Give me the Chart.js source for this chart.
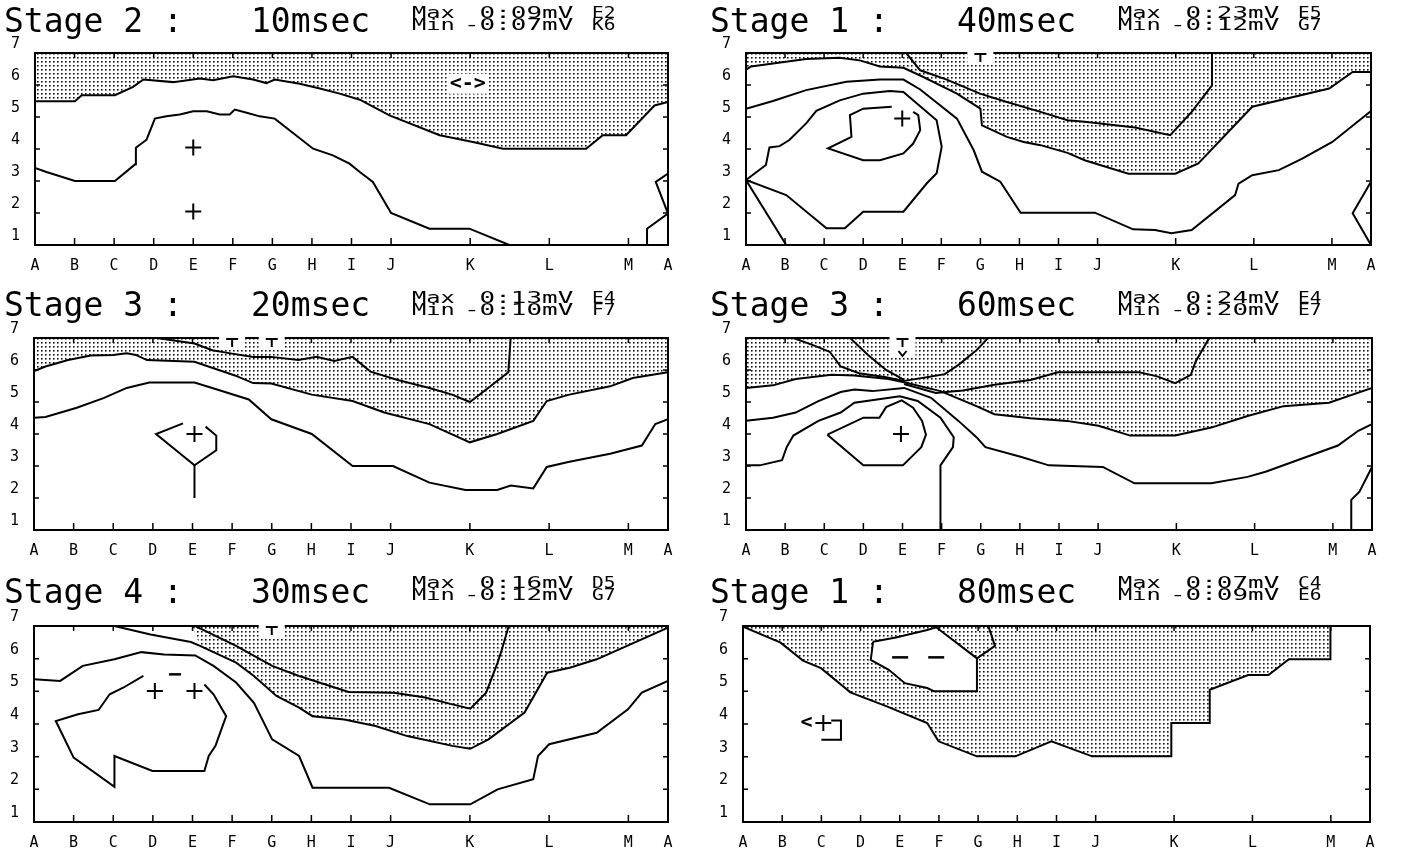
<!DOCTYPE html>
<html>
<head>
<meta charset="utf-8">
<script src="https://cdn.jsdelivr.net/npm/chart.js@4.4.0/dist/chart.umd.min.js"></script>
<style>
  body { margin: 0; background: #fff; width: 1412px; height: 854px; overflow: hidden; position: relative; font-family: "DejaVu Sans Mono", monospace; }
  .panel { position: absolute; width: 706px; }
  .panel canvas { position: absolute; left: 0; top: 0; }
  .t { position: absolute; white-space: pre; color: #000; }
  .big { font-size: 33px; line-height: 33px; }
  .sm { font-size: 16px; line-height: 12px; top: 7px; transform-origin: 0 0; }
</style>
</head>
<body>
<script>
// axis ticks (electrode columns A..M, wrapping back to A; rows 1..7)
const xTickPos = [0, 1, 2, 3, 4, 5, 6, 7, 8, 9, 11, 13, 15, 16];
const xTickLabels = ['A', 'B', 'C', 'D', 'E', 'F', 'G', 'H', 'I', 'J', 'K', 'L', 'M', 'A'];
const yTickPos = [1, 2, 3, 4, 5, 6, 7];

// panel titles
const stageTitles = ['Stage 2 :', 'Stage 1 :', 'Stage 3 :', 'Stage 3 :', 'Stage 4 :', 'Stage 1 :'];
const msecTitles = ['10msec', '40msec', '20msec', '60msec', '30msec', '80msec'];
const maxValues = [' 0:09mV', ' 0:23mV', ' 0:13mV', ' 0:24mV', ' 0:16mV', ' 0:07mV'];
const minValues = ['-0:07mV', '-0:12mV', '-0:10mV', '-0:20mV', '-0:12mV', '-0:09mV'];
const maxCells = ['E2', 'E5', 'E4', 'E4', 'D5', 'C4'];
const minCells = ['K6', 'G7', 'F7', 'E7', 'G7', 'E6'];

// Stage 2, 10 msec
const p1Neg = [[0,5.49],[1.01,5.49],[1.18,5.68],[2.02,5.68],[2.48,5.94],[2.74,6.17],[3.49,6.09],[4.17,6.2],[4.5,6.15],[5.01,6.27],[5.51,6.17],[5.85,6.06],[6.06,6.17],[6.69,6.04],[7.2,5.89],[7.7,5.73],[8.21,5.54],[8.96,5.05],[10.23,4.43],[11.07,4.22],[11.83,4.01],[13.93,4.01],[14.35,4.43],[14.94,4.43],[15.66,5.36],[16,5.47]];
const p1Low = [[0,3.41],[0.29,3.28],[1.01,3.0],[2.02,3.0],[2.53,3.52],[2.55,4.04],[2.82,4.29],[3.03,4.95],[3.32,5.02],[3.66,5.08],[4.0,5.18],[4.34,5.18],[4.67,5.08],[4.92,5.08],[5.05,5.23],[5.35,5.13],[5.68,5.02],[6.06,4.95],[7.03,4.01],[7.53,3.8],[7.95,3.54],[8.21,3.28],[8.54,2.97],[9.0,2.0],[9.97,1.51],[10.98,1.51],[11.99,1.0]];
const p1Edge = [[16,3.23],[15.69,2.97],[16,1.98],[15.47,1.51],[15.47,1.0]];
const p1Plus = [[4,4.05],[4,2.05]];
const p1Notes = [{x: 10.94, y: 6.04, kind: 'text', t: '<->', bg: true}];

// Stage 1, 40 msec
const p2Neg = [[0,6.48],[0.13,6.58],[0.69,6.67],[1.54,6.81],[2.4,6.85],[2.91,6.77],[3.43,6.58],[4.03,6.54],[4.54,6.25],[5.4,5.73],[6.0,5.26],[6.04,4.74],[6.68,4.38],[7.11,4.22],[7.54,4.12],[8.23,3.88],[8.67,3.65],[9.79,3.23],[10.99,3.23],[11.58,3.55],[12.96,5.32],[14.93,5.89],[15.53,6.41],[16,6.41]];
const p2Inner = [[4.1,7],[4.46,6.46],[5.14,6.17],[5.99,5.73],[6.68,5.47],[7.54,5.16],[8.23,4.9],[8.67,4.85],[9.96,4.67],[10.86,4.43],[11.41,5.16],[11.93,5.99],[11.93,7]];
const p2Mid = [[0,5.26],[0.69,5.5],[1.54,5.84],[2.57,6.1],[3.43,6.17],[4.03,6.17],[4.46,5.86],[5.4,4.95],[5.83,3.96],[6.04,3.29],[6.51,2.98],[7.03,2.01],[8.93,2.01],[9.91,1.49],[10.47,1.47],[10.89,1.37],[11.41,1.47],[12.52,2.56],[12.61,2.92],[12.96,3.18],[13.64,3.34],[14.24,3.7],[15.01,4.22],[16,5.19]];
const p2Loop = [[0,3.03],[0.51,3.5],[0.6,4.05],[0.86,4.09],[1.11,4.28],[1.54,4.8],[1.8,5.19],[2.4,5.52],[3.0,5.73],[3.68,5.81],[4.03,5.78],[4.88,4.9],[5.01,4.07],[4.88,3.24],[4.63,2.93],[4.03,2.04],[3.0,2.04],[2.53,1.52],[2.06,1.52],[1.03,2.56],[0,3.03]];
const p2Diag = [[0,3.03],[1.03,1.0]];
const p2Core = [[4.28,5.16],[4.41,5.06],[4.46,4.59],[4.28,4.17],[4.03,3.86],[3.43,3.65],[3.0,3.65],[2.1,4.02],[2.7,4.38],[2.66,5.06],[3.0,5.26],[3.73,5.32]];
const p2Edge = [[16,2.98],[15.53,1.99],[16,1.0]];
const p2Plus = [[4.0,4.95]];
const p2Notes = [{x: 6, y: 7, kind: 'top'}];

// Stage 3, 20 msec
const p3Neg = [[0,5.97],[0.29,6.11],[0.86,6.31],[1.43,6.45],[2.0,6.47],[2.34,6.52],[2.57,6.47],[2.85,6.31],[4.05,6.26],[5.07,5.83],[5.53,5.59],[5.99,5.58],[7.01,5.23],[8.04,5.03],[8.84,4.67],[9.98,4.31],[11.0,3.74],[11.69,4.0],[12.6,4.41],[12.94,5.03],[13.51,5.23],[14.54,5.49],[15.11,5.75],[16,5.93]];
const p3Inner = [[3.1,7],[4.05,6.83],[4.5,6.62],[4.96,6.52],[5.53,6.41],[5.99,6.41],[6.67,6.31],[7.13,6.41],[7.58,6.28],[8.04,6.41],[8.49,5.95],[9.18,5.69],[9.98,5.44],[10.55,5.23],[11.0,5.0],[11.46,5.44],[11.97,5.93],[12.03,7]];
const p3Low = [[0,4.51],[0.29,4.53],[1.08,4.82],[1.77,5.13],[2.34,5.44],[2.91,5.61],[4.05,5.61],[4.62,5.39],[5.42,5.08],[5.99,4.46],[7.01,4.0],[8.04,3.0],[9.06,3.0],[9.98,2.48],[10.89,2.25],[11.69,2.25],[12.03,2.39],[12.6,2.3],[12.94,2.97],[13.51,3.13],[14.54,3.38],[15.34,3.64],[15.68,4.31],[16,4.46]];
const p3Loop = [[4.33,4.23],[4.6,3.95],[4.6,3.49],[4.05,3.02],[3.08,4.0],[3.76,4.33]];
const p3Stem = [[4.05,3.02],[4.05,2.0]];
const p3Plus = [[4.05,4.0]];
const p3Notes = [{x: 5, y: 7, kind: 'top'}, {x: 6, y: 7, kind: 'top'}];

// Stage 3, 60 msec
const p4Neg = [[0,5.44],[0.69,5.52],[1.27,5.72],[2.19,5.85],[2.77,5.83],[3.58,5.73],[4.04,5.62],[4.97,5.34],[5.89,4.87],[6.35,4.62],[7.27,4.49],[8.2,4.41],[9.01,4.26],[9.82,3.95],[10.97,3.95],[11.89,4.2],[12.82,4.56],[13.74,4.87],[14.9,4.98],[16,5.44]];
const p4Mid = [[0,4.41],[0.69,4.51],[1.27,4.67],[1.85,5.03],[2.42,5.31],[2.77,5.39],[3.23,5.34],[4.04,5.44],[4.73,5.13],[5.43,4.41],[5.89,3.9],[6.12,3.59],[7.04,3.28],[7.74,3.02],[9.12,2.97],[9.93,2.46],[11.89,2.46],[12.82,2.66],[13.28,2.82],[14.32,3.28],[15.13,3.64],[15.65,4.1],[16,4.31]];
const p4Low = [[0,3.02],[0.35,3.02],[0.92,3.18],[1.04,3.59],[1.21,3.95],[1.85,4.41],[2.42,4.67],[2.77,4.98],[3.35,5.08],[3.93,5.18],[4.39,5.03],[4.97,4.51],[5.31,3.9],[5.29,3.59],[4.97,3.02],[4.97,1.0]];
const p4Loop = [[2.08,3.98],[3.0,4.51],[3.41,4.51],[3.58,4.84],[3.98,5.05],[4.27,4.82],[4.5,4.41],[4.6,3.98],[4.48,3.59],[4.01,3.02],[3.0,3.02],[2.08,3.98]];
const p4FanA = [[1.21,7],[1.73,6.77],[2.14,6.57],[2.42,6.11],[2.89,5.9],[3.58,5.77],[4.04,5.66]];
const p4FanB = [[2.66,7],[3.12,6.47],[3.58,6.0],[4.04,5.69]];
const p4FanC = [[4.04,5.66],[4.62,5.77],[5.08,5.87],[5.43,6.16],[5.89,6.62],[6.06,6.83],[6.18,7]];
const p4FanD = [[4.04,5.56],[4.85,5.28],[5.54,5.36],[6.35,5.54],[7.27,5.69],[7.97,5.93],[10.05,5.93],[10.51,5.8],[10.97,5.59],[11.37,5.85],[11.49,6.26],[11.84,7]];
const p4Edge = [[15.47,1.0],[15.47,1.94],[15.68,2.2],[16,2.97]];
const p4Plus = [[3.96,4.0]];
const p4Notes = [{x: 4, y: 7, kind: 'top', tall: true}];

// Stage 4, 30 msec
const p5Neg = [[2.03,7],[2.94,6.74],[3.96,6.51],[4.19,6.39],[5.1,5.88],[5.55,5.47],[6.12,4.86],[6.69,4.5],[7.03,4.24],[7.83,4.14],[8.62,3.94],[9.42,3.63],[10.56,3.33],[11.01,3.24],[11.47,3.53],[12.38,4.35],[12.95,5.57],[13.52,5.72],[14.2,5.98],[16,6.95]];
const p5NegStart = [4.0, 7];
const p5Inner = [[4.07,7],[5.1,6.39],[6.01,5.78],[6.69,5.47],[7.94,4.98],[9.08,4.96],[9.87,4.81],[10.56,4.6],[11.01,4.47],[11.41,4.96],[11.7,5.88],[11.81,6.29],[11.98,7]];
const p5Low = [[0,5.37],[0.66,5.32],[1.23,5.78],[2.03,5.98],[2.71,6.2],[3.28,6.13],[4.07,6.1],[4.53,5.78],[5.1,5.27],[5.55,4.65],[6.01,3.53],[6.69,3.02],[7.03,2.05],[8.96,2.05],[9.99,1.54],[11.01,1.54],[11.7,2.0],[12.6,2.31],[12.72,3.02],[13.0,3.38],[14.2,3.73],[14.99,4.45],[15.34,4.96],[16,5.32]];
const p5Loop = [[2.76,5.47],[2.25,5.11],[1.91,4.91],[1.63,4.43],[1.11,4.3],[0.55,4.09],[1.0,2.97],[2.03,2.08],[2.03,3.02],[2.99,2.56],[4.3,2.56],[4.41,3.02],[4.58,3.33],[4.76,3.94],[4.85,4.24],[4.53,4.91],[4.3,5.21]];
const p5Plus = [[3.05,5.01],[4.05,5.01]];
const p5Notes = [{x: 3.56, y: 5.52, kind: 'bar'}, {x: 6, y: 7, kind: 'top'}];

// Stage 1, 80 msec
const p6Neg = [[0,6.98],[0.96,6.49],[1.53,5.94],[1.99,5.71],[2.74,4.97],[3.67,4.54],[4.7,4.03],[4.99,3.47],[5.97,3.01],[6.95,3.01],[7.87,3.47],[8.91,3.01],[10.93,3.01],[10.93,4.03],[11.91,4.03],[11.91,5.05],[12.89,5.5],[13.41,5.5],[13.93,5.98],[14.99,5.98],[14.99,7]];
const p6Island = [[3.32,6.52],[3.9,6.65],[4.7,6.88],[4.93,6.96],[5.97,6.01],[5.97,5.0],[4.88,5.0],[4.7,5.1],[4.13,5.25],[3.72,5.66],[3.26,5.96],[3.32,6.52]];
const p6Spur = [[5.97,6.01],[6.43,6.39],[6.26,7]];
const p6Bracket = [[2.25,4.11],[2.5,4.11],[2.5,3.52],[2.0,3.52]];
const p6Plus = [[2.05,4.03]];
const p6Notes = [{x: 1.62, y: 4.05, kind: 'text', t: '<'}, {x: 4.01, y: 6.04, kind: 'dash'}, {x: 4.93, y: 6.04, kind: 'dash'}];

// page layout
const colX = [0, 706];
const rowY = [0, 285, 570];
const rowH = [285, 285, 284];
const plotTop = [53, 53, 56];
const plotBottom = [245, 245, 252];
const titleTop = [4, 3, 5];
const plotLeft = [35, 40, 34, 40, 34, 37];
const plotRight = [668, 665, 668, 666, 668, 664];

const pts = a => a.map(([x, y]) => ({x, y}));

function lineDs(a, extra) {
    return Object.assign({
        data: pts(a), borderColor: '#000', borderWidth: 2, pointRadius: 0,
        fill: false, tension: 0, order: 1,
    }, extra || {});
}

function plusDs(a) {
    return {
        data: pts(a), showLine: false, pointStyle: 'cross', pointRadius: 8,
        pointBorderWidth: 2, pointBorderColor: '#000', borderColor: '#000', order: 0,
    };
}

function makeStipple(ctx) {
    const tile = document.createElement('canvas');
    tile.width = 4; tile.height = 4;
    const g = tile.getContext('2d');
    g.fillStyle = '#fff'; g.fillRect(0, 0, 4, 4);
    g.fillStyle = '#111'; g.fillRect(1, 1, 1, 1);
    g.fillStyle = '#707070'; g.fillRect(2, 1, 1, 1); g.fillRect(1, 2, 1, 1);
    g.fillStyle = '#b0b0b0'; g.fillRect(2, 2, 1, 1);
    return ctx.createPattern(tile, 'repeat');
}

// box, inner tick marks and the small text marks
function framePlugin(notes) {
    return {
        id: 'frame',
        afterDatasetsDraw(chart) {
            const {ctx, chartArea: a, scales: {x, y}} = chart;
            ctx.save();
            ctx.strokeStyle = '#000';
            ctx.lineWidth = 2;
            ctx.strokeRect(a.left, a.top, a.right - a.left, a.bottom - a.top);
            ctx.lineWidth = 1.5;
            ctx.beginPath();
            xTickPos.slice(1, -1).forEach(v => {
                const px = x.getPixelForValue(v);
                ctx.moveTo(px, a.bottom); ctx.lineTo(px, a.bottom - 7);
                ctx.moveTo(px, a.top); ctx.lineTo(px, a.top + 5);
            });
            yTickPos.slice(1, -1).forEach(v => {
                const py = y.getPixelForValue(v);
                ctx.moveTo(a.left, py); ctx.lineTo(a.left + 5, py);
                ctx.moveTo(a.right, py); ctx.lineTo(a.right - 5, py);
            });
            ctx.stroke();

            notes.forEach(n => {
                const px = x.getPixelForValue(n.x), py = y.getPixelForValue(n.y);
                ctx.fillStyle = '#fff';
                ctx.strokeStyle = '#000';
                if (n.kind === 'top') {
                    ctx.fillRect(px - 13, py - 2, 26, n.tall ? 22 : 13);
                    ctx.lineWidth = 2;
                    ctx.beginPath();
                    ctx.moveTo(px - 6, py + 1); ctx.lineTo(px + 6, py + 1);
                    ctx.moveTo(px, py + 1); ctx.lineTo(px, py + 9);
                    if (n.tall) {
                        ctx.moveTo(px - 4, py + 13); ctx.lineTo(px, py + 18); ctx.lineTo(px + 4, py + 13);
                    }
                    ctx.stroke();
                } else if (n.kind === 'dash' || n.kind === 'bar') {
                    const w = n.kind === 'dash' ? 8 : 6;
                    ctx.lineWidth = 2.5;
                    ctx.beginPath();
                    ctx.moveTo(px - w, py); ctx.lineTo(px + w, py);
                    ctx.stroke();
                } else {
                    ctx.font = 'bold 20px "DejaVu Sans Mono"';
                    ctx.textAlign = 'center';
                    ctx.textBaseline = 'middle';
                    if (n.bg) {
                        const w = ctx.measureText(n.t).width;
                        ctx.fillRect(px - w / 2 - 3, py - 10, w + 6, 20);
                    }
                    ctx.fillStyle = '#000';
                    ctx.fillText(n.t, px, py);
                }
            });
            ctx.restore();
        }
    };
}

function buildDatasets(i, pattern) {
    const negDs = (a, extra) => lineDs(a, Object.assign({fill: 'end', backgroundColor: pattern, order: 10}, extra || {}));
    switch (i) {
        case 0: return [negDs(p1Neg), lineDs(p1Low), lineDs(p1Edge), plusDs(p1Plus)];
        case 1: return [negDs(p2Neg), lineDs(p2Inner), lineDs(p2Mid), lineDs(p2Loop), lineDs(p2Diag),
                        lineDs(p2Core), lineDs(p2Edge), plusDs(p2Plus)];
        case 2: return [negDs(p3Neg), lineDs(p3Inner), lineDs(p3Low), lineDs(p3Loop), lineDs(p3Stem), plusDs(p3Plus)];
        case 3: return [negDs(p4Neg), lineDs(p4Mid), lineDs(p4Low), lineDs(p4Loop), lineDs(p4FanA),
                        lineDs(p4FanB), lineDs(p4FanC), lineDs(p4FanD), lineDs(p4Edge), plusDs(p4Plus)];
        case 4: return [negDs([p5NegStart].concat(p5Neg.slice(3)), {borderColor: 'transparent'}),
                        lineDs(p5Neg), lineDs(p5Inner), lineDs(p5Low), lineDs(p5Loop), plusDs(p5Plus)];
        default: return [negDs(p6Neg), lineDs(p6Island, {fill: 'shape', backgroundColor: '#fff', order: 5}),
                         lineDs(p6Spur), lineDs(p6Bracket), plusDs(p6Plus)];
    }
}

const allNotes = [p1Notes, p2Notes, p3Notes, p4Notes, p5Notes, p6Notes];

for (let i = 0; i < 6; i++) {
    const col = i % 2, row = Math.floor(i / 2);
    const W = 706, H = rowH[row];

    const panel = document.createElement('div');
    panel.className = 'panel';
    panel.style.left = colX[col] + 'px';
    panel.style.top = rowY[row] + 'px';
    panel.style.height = H + 'px';
    document.body.appendChild(panel);

    const canvas = document.createElement('canvas');
    canvas.width = W; canvas.height = H;
    panel.appendChild(canvas);

    const addText = (cls, left, text, extra) => {
        const s = document.createElement('span');
        s.className = 't ' + cls;
        s.style.left = left + 'px';
        s.textContent = text;
        Object.assign(s.style, extra || {});
        panel.appendChild(s);
    };
    addText('big', 4, stageTitles[i], {top: titleTop[row] + 'px'});
    addText('big', 251, msecTitles[i], {top: titleTop[row] + 'px'});
    addText('sm', 412, 'Max\nMin', {transform: 'scaleX(1.48)'});
    addText('sm', 464, maxValues[i] + '\n' + minValues[i], {transform: 'scaleX(1.62)'});
    addText('sm', 592, maxCells[i] + '\n' + minCells[i], {transform: 'scaleX(1.22)'});

    const pattern = makeStipple(canvas.getContext('2d'));
    const left = plotLeft[i], right = plotRight[i];
    const bottomH = H - plotBottom[row];

    new Chart(canvas, {
        type: 'line',
        data: {datasets: buildDatasets(i, pattern)},
        options: {
            responsive: false,
            animation: false,
            devicePixelRatio: 1,
            events: [],
            layout: {padding: {left: 0, right: W - right, top: plotTop[row], bottom: 0}},
            plugins: {legend: {display: false}, tooltip: {enabled: false}},
            scales: {
                x: {
                    type: 'linear', min: 0, max: 16,
                    afterBuildTicks: s => { s.ticks = xTickPos.map(v => ({value: v})); },
                    afterFit: s => { s.height = bottomH; },
                    grid: {display: false, drawTicks: false},
                    border: {display: false},
                    ticks: {
                        autoSkip: false, maxRotation: 0, padding: 12, color: '#000',
                        font: {family: 'DejaVu Sans Mono', size: 15},
                        callback: (v, idx) => xTickLabels[idx],
                    },
                },
                y: {
                    type: 'linear', min: 1, max: 7,
                    afterBuildTicks: s => { s.ticks = yTickPos.map(v => ({value: v})); },
                    afterFit: s => { s.width = left; },
                    grid: {display: false, drawTicks: false},
                    border: {display: false},
                    ticks: {
                        padding: 15, labelOffset: -9, color: '#000',
                        font: {family: 'DejaVu Sans Mono', size: 15},
                        callback: v => String(v),
                    },
                },
            },
        },
        plugins: [framePlugin(allNotes[i])],
    });
}
</script>
</body>
</html>
